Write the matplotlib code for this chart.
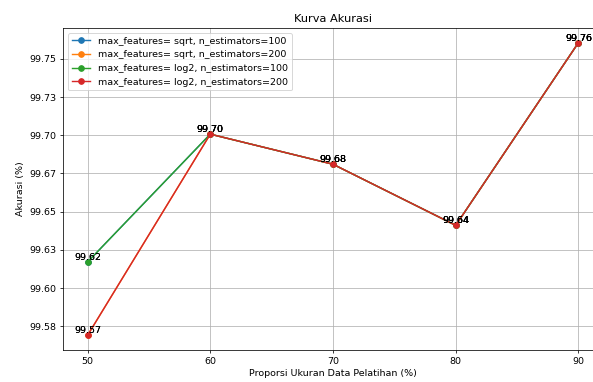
import matplotlib.pyplot as plt

proporsi = [50, 60, 70, 80, 90]
sqrt_100 = [99.617, 99.7007, 99.681, 99.641, 99.7606]
sqrt_200 = [99.569, 99.7007, 99.681, 99.641, 99.7606]
log2_100 = [99.617, 99.7007, 99.681, 99.641, 99.7606]
log2_200 = [99.569, 99.7007, 99.681, 99.641, 99.7606]

y_ticks = [99.575, 99.600, 99.625, 99.650, 99.675, 99.700, 99.725, 99.750]
y_tick_labels = ["99.58", "99.60", "99.63", "99.65", "99.67", "99.70", "99.73", "99.75"]

series = [
    ("max_features= sqrt, n_estimators=100", sqrt_100),
    ("max_features= sqrt, n_estimators=200", sqrt_200),
    ("max_features= log2, n_estimators=100", log2_100),
    ("max_features= log2, n_estimators=200", log2_200),
]

fig = plt.figure(figsize=(593 / 68, 382 / 68), dpi=68)
ax = fig.add_axes([63 / 593, 32 / 382, 540 / 593, 322 / 382])

for label, akurasi in series:
    ax.plot(proporsi, akurasi, marker='o', label=label)
    for x, y in zip(proporsi, akurasi):
        ax.text(x, y, f"{y:.2f}", ha='center', va='bottom')

ax.set_title("Kurva Akurasi")
ax.set_xlabel("Proporsi Ukuran Data Pelatihan (%)")
ax.set_ylabel("Akurasi (%)")
ax.set_xticks(proporsi)
ax.set_yticks(y_ticks)
ax.set_yticklabels(y_tick_labels)
ax.legend(loc='upper left')
ax.grid(True)

fig.savefig("out.png", dpi=68)
